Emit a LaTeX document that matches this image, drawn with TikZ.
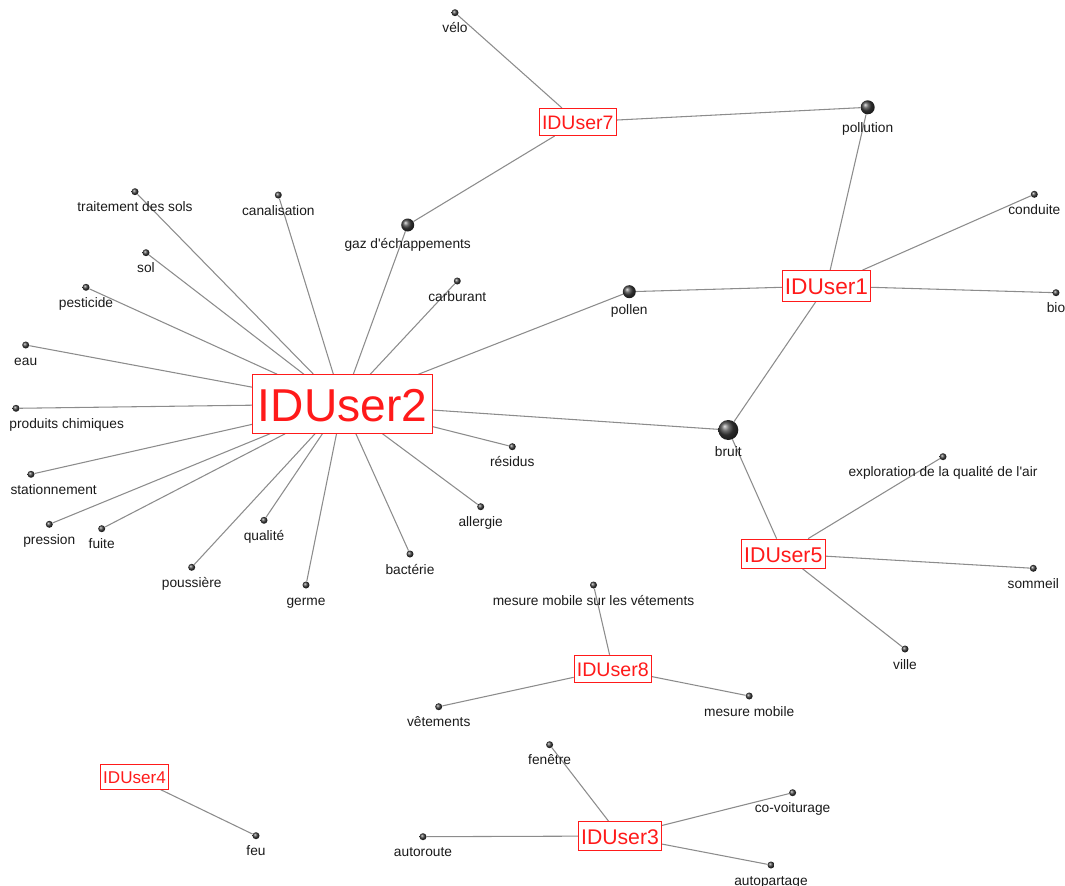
\documentclass[tikz,border=0pt]{standalone}
\usepackage{fontspec}
\setmainfont{Liberation Sans}
\usetikzlibrary{backgrounds}
\definecolor{ink}{HTML}{1A1A1A}
\definecolor{idred}{HTML}{FF1A1A}
\definecolor{linkgray}{HTML}{8C8C8C}

\begin{document}
\begin{tikzpicture}[
  x=0.75pt, y=-0.75pt,
  kw/.style={circle, inner sep=0pt, minimum size=5.25pt, shading=ball,
             ball color=black!75},
  lbl/.style={font=\fontsize{10.3}{12}\selectfont, text=ink, inner sep=0pt,
              text height=7.6pt, text depth=2.2pt, yshift=-4.5pt},
  user/.style={draw=idred, text=idred, fill=white, line width=0.75pt,
               inner xsep=2pt, inner ysep=1.5pt,
               execute at begin node={\rule[-0.2em]{0pt}{1.18em}}},
  link/.style={draw=linkgray, line width=0.8pt}
]
\useasboundingbox (0,0) rectangle (1065,886);

% users
\node[user, font=\fontsize{34.6}{40}\selectfont, inner xsep=4pt] (user2) at (342.5,404) {IDUser2};
\node[user, font=\fontsize{17}{20}\selectfont] (user1) at (826.5,286) {IDUser1};
\node[user, font=\fontsize{14.6}{17}\selectfont] (user7) at (577.7,122) {IDUser7};
\node[user, font=\fontsize{16}{19}\selectfont] (user5) at (783.3,553.7) {IDUser5};
\node[user, font=\fontsize{14.7}{17}\selectfont] (user8) at (612.8,668.8) {IDUser8};
\node[user, font=\fontsize{12.8}{15}\selectfont] (user4) at (134.5,777) {IDUser4};
\node[user, font=\fontsize{15.9}{19}\selectfont] (user3) at (620,836) {IDUser3};

% keywords
\node[kw, label={[lbl]below:vélo}] (velo) at (455,12.7) {};
\node[kw, minimum size=10.5pt, label={[lbl, yshift=-1.5pt]below:pollution}] (pollution) at (867.7,107.3) {};
\node[kw, minimum size=9.75pt, label={[lbl]below:gaz d\textquotesingle échappements}] (gaz) at (407.7,225) {};
\node[kw, label={[lbl]below:traitement des sols}] (traitement) at (135,191.7) {};
\node[kw, label={[lbl]below:canalisation}] (canal) at (278.3,195) {};
\node[kw, label={[lbl]below:sol}] (sol) at (146,252.7) {};
\node[kw, label={[lbl]below:pesticide}] (pesticide) at (86,287.3) {};
\node[kw, label={[lbl]below:carburant}] (carburant) at (457.3,281) {};
\node[kw, minimum size=9.75pt, label={[lbl]below:pollen}] (pollen) at (629.3,291.7) {};
\node[kw, label={[lbl]below:conduite}] (conduite) at (1034.3,194.3) {};
\node[kw, label={[lbl]below:bio}] (bio) at (1056,292.7) {};
\node[kw, label={[lbl]below:eau}] (eau) at (25.7,345) {};
\node[kw, label={[lbl, xshift=38pt]below:produits chimiques}] (chimie) at (16,408.3) {};
\node[kw, label={[lbl]below:résidus}] (residus) at (512.3,446.7) {};
\node[kw, minimum size=15pt, label={[lbl]below:bruit}] (bruit) at (728.3,430) {};
\node[kw, label={[lbl]below:exploration de la qualité de l\textquotesingle air}] (explo) at (943,456.7) {};
\node[kw, label={[lbl, xshift=17pt]below:stationnement}] (station) at (31,474.3) {};
\node[kw, label={[lbl]below:allergie}] (allergie) at (480.7,506.7) {};
\node[kw, label={[lbl]below:sommeil}] (sommeil) at (1033.3,568.3) {};
\node[kw, label={[lbl]below:pression}] (pression) at (49.3,524.3) {};
\node[kw, label={[lbl]below:fuite}] (fuite) at (101.7,528.7) {};
\node[kw, label={[lbl]below:qualité}] (qualite) at (264,520.3) {};
\node[kw, label={[lbl]below:poussière}] (poussiere) at (191.7,567.3) {};
\node[kw, label={[lbl]below:bactérie}] (bacterie) at (410,554) {};
\node[kw, label={[lbl]below:germe}] (germe) at (306,585) {};
\node[kw, label={[lbl]below:mesure mobile sur les vétements}] (mesvet) at (593.5,585) {};
\node[kw, label={[lbl]below:ville}] (ville) at (905,649) {};
\node[kw, label={[lbl]below:vêtements}] (vetements) at (438.7,706.7) {};
\node[kw, label={[lbl]below:mesure mobile}] (mesmob) at (749.2,696) {};
\node[kw, label={[lbl]below:feu}] (feu) at (256,835.7) {};
\node[kw, label={[lbl]below:fenêtre}] (fenetre) at (549.6,744.7) {};
\node[kw, label={[lbl]below:co-voiturage}] (covoit) at (792.6,792.7) {};
\node[kw, label={[lbl]below:autoroute}] (autoroute) at (423,836.7) {};
\node[kw, label={[lbl]below:autopartage}] (autopart) at (771,865) {};

% links
\begin{scope}[on background layer]
\draw[link] (user7) -- (velo);
\draw[link] (user7) -- (pollution);
\draw[link] (user7) -- (gaz);

\draw[link] (user2) -- (traitement);
\draw[link] (user2) -- (canal);
\draw[link] (user2) -- (sol);
\draw[link] (user2) -- (pesticide);
\draw[link] (user2) -- (eau);
\draw[link] (user2) -- (chimie);
\draw[link] (user2) -- (station);
\draw[link] (user2) -- (pression);
\draw[link] (user2) -- (fuite);
\draw[link] (user2) -- (poussiere);
\draw[link] (user2) -- (qualite);
\draw[link] (user2) -- (germe);
\draw[link] (user2) -- (bacterie);
\draw[link] (user2) -- (allergie);
\draw[link] (user2) -- (residus);
\draw[link] (user2) -- (bruit);
\draw[link] (user2) -- (pollen);
\draw[link] (user2) -- (carburant);
\draw[link] (user2) -- (gaz);

\draw[link] (user1) -- (pollution);
\draw[link] (user1) -- (pollen);
\draw[link] (user1) -- (conduite);
\draw[link] (user1) -- (bio);
\draw[link] (user1) -- (bruit);

\draw[link] (user5) -- (bruit);
\draw[link] (user5) -- (explo);
\draw[link] (user5) -- (sommeil);
\draw[link] (user5) -- (ville);

\draw[link] (user8) -- (mesvet);
\draw[link] (user8) -- (vetements);
\draw[link] (user8) -- (mesmob);

\draw[link] (user4) -- (feu);

\draw[link] (user3) -- (fenetre);
\draw[link] (user3) -- (covoit);
\draw[link] (user3) -- (autoroute);
\draw[link] (user3) -- (autopart);
\end{scope}
\end{tikzpicture}
\end{document}
